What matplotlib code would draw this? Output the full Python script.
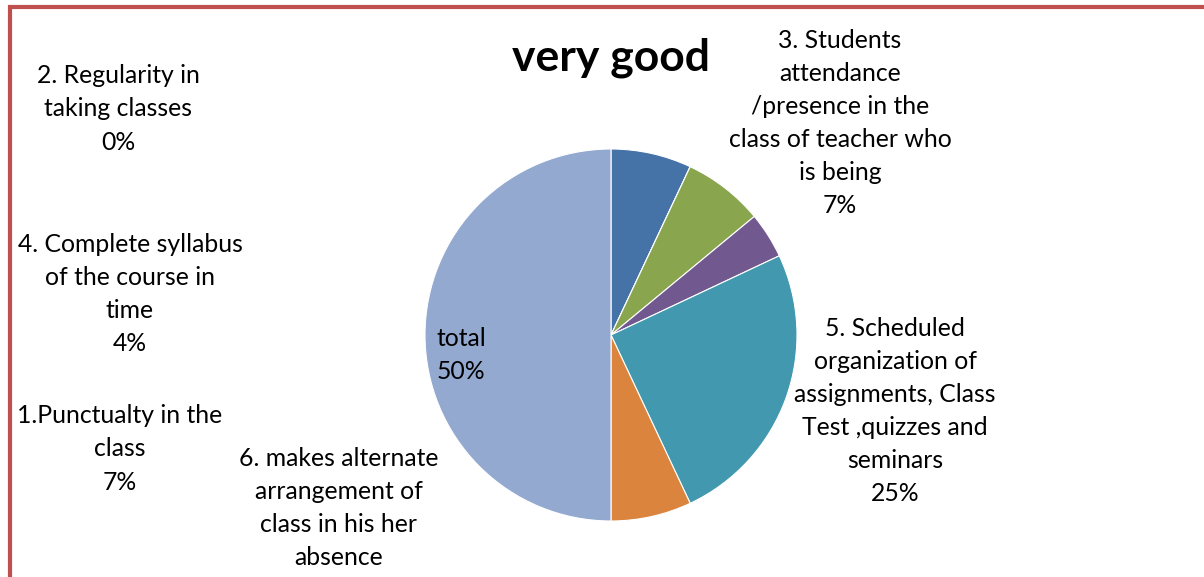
import matplotlib.pyplot as plt
from matplotlib.patches import Rectangle

plt.rcParams['font.family'] = ['Lato', 'DejaVu Sans']

names = ["1.Punctualty in the\nclass",
         "2. Regularity in\ntaking classes",
         "3. Students\nattendance\n/presence in the\nclass of teacher who\nis being",
         "4. Complete syllabus\nof the course in\ntime",
         "5. Scheduled\norganization of\nassignments, Class\nTest ,quizzes and\nseminars",
         "6. makes alternate\narrangement of\nclass in his her\nabsence",
         "total"]
values = [7, 0, 7, 4, 25, 7, 50]
colors = ["#4572A7", "#AA4643", "#89A54E", "#71588F", "#4198AF", "#DB843D", "#93A9CF"]

# label centres in pixels (x, y from top) as laid out in the original
label_pos = [(120, 449), (118, 109), (840, 123), (130, 294), (895, 411), (339, 508), (461, 355)]

W, H = 1204, 577
fig = plt.figure(figsize=(W / 100, H / 100), dpi=100)

# frame (only top and left edges visible)
fig.patches.append(Rectangle((10 / W, -0.1), 1.2, (H - 7) / H + 0.1, transform=fig.transFigure,
                             fill=False, edgecolor="#C0504D", linewidth=3))

cx, cy, r = 611, 335, 186
ax = fig.add_axes([(cx - r) / W, (H - cy - r) / H, 2 * r / W, 2 * r / H])
ax.pie(values, colors=colors, startangle=90, counterclock=False,
       wedgeprops=dict(edgecolor="white", linewidth=0.8))
ax.set_xlim(-1, 1)
ax.set_ylim(-1, 1)
ax.set_aspect("equal")
ax.axis("off")

for name, v, (px, py) in zip(names, values, label_pos):
    txt = name + "\n" + f"{v}%"
    if name.startswith("6."):
        txt = name  # percentage falls below the visible area in the original
    fig.text(px / W, 1 - py / H, txt, ha="center", va="center", fontsize=17.8,
             linespacing=1.53, color="black")

fig.text(cx / W, 1 - 58 / H, "very good", ha="center", va="center", fontsize=32,
         fontweight="bold")

fig.savefig("out.png", dpi=100)
